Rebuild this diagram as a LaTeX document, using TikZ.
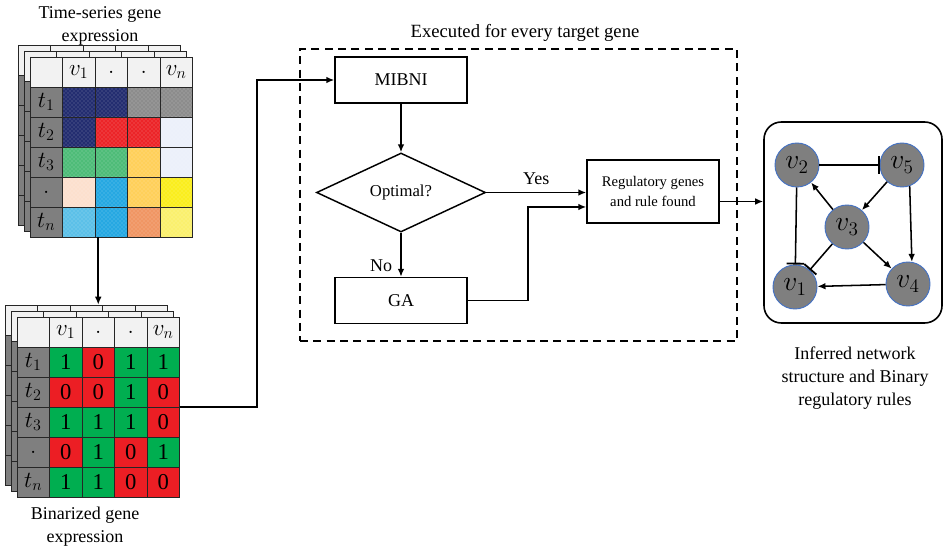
\documentclass[tikz,border=0pt]{standalone}
\usepackage{fontspec}
\setmainfont{Liberation Serif}
\usepackage{amsmath}
\usepackage{tikz}
\usetikzlibrary{shapes.geometric,arrows.meta,patterns}

\definecolor{hdrgray}{RGB}{242,242,242}
\definecolor{rowgray}{RGB}{127,127,127}
\definecolor{navy}{RGB}{35,45,112}
\definecolor{midgray}{RGB}{140,140,140}
\definecolor{hotred}{RGB}{236,36,40}
\definecolor{dotwhite}{RGB}{236,240,250}
\definecolor{mint}{RGB}{78,188,120}
\definecolor{sand}{RGB}{255,208,90}
\definecolor{peach}{RGB}{252,224,206}
\definecolor{sky}{RGB}{38,168,226}
\definecolor{lemon}{RGB}{250,238,30}
\definecolor{ice}{RGB}{92,192,232}
\definecolor{coral}{RGB}{240,150,100}
\definecolor{paleyel}{RGB}{250,240,110}
\definecolor{bit1}{RGB}{0,174,80}
\definecolor{bit0}{RGB}{236,30,36}
\definecolor{nodegray}{RGB}{127,127,127}
\definecolor{nodeblue}{RGB}{68,114,196}

\tikzset{
  cell/.style={draw=black!85, line width=0.7pt},
  box/.style={rectangle, draw=black, line width=1.1pt, minimum width=99pt,
    minimum height=34.5pt, inner sep=2pt},
  conn/.style={line width=1.15pt},
  gene/.style={circle, fill=nodegray, draw=nodeblue, line width=0.7pt,
    minimum size=33pt, inner sep=0pt, font=\fontsize{20}{20}\selectfont},
  tab/.style={font=\fontsize{17}{17}\selectfont},
}

% one sheet of the stacked table: header row, row names, white body, grid
\newcommand\matlayer[2]{%
  \fill[hdrgray] (#1,#2) rectangle ++(162.5,30);
  \fill[rowgray] (#1,#2+30) rectangle ++(32.5,150);
  \fill[white] (#1+32.5,#2+30) rectangle ++(130,150);
}
\newcommand\matgrid[2]{%
  \foreach \k in {0,...,5} \draw[cell] (#1+\k*32.5,#2) -- ++(0,180);
  \foreach \k in {0,...,6} \draw[cell] (#1,#2+\k*30) -- ++(162.5,0);
}

\begin{document}
\begin{tikzpicture}[x=0.75pt, y=-0.75pt, >={Latex[length=6pt,width=5pt]},
  font=\fontsize{13.5}{17}\selectfont]
\useasboundingbox (0,0) rectangle (950,549);

% time-series table
\foreach \d in {12,6}{
  \matlayer{30-\d}{57-\d}
  \matgrid{30-\d}{57-\d}
}
\matlayer{30}{57}
\foreach \lab/\row [count=\r] in {t_1/{navy,navy,midgray,midgray},
    t_2/{navy,hotred,hotred,dotwhite}, t_3/{mint,mint,sand,dotwhite},
    ./{peach,sky,sand,lemon}, t_n/{ice,sky,coral,paleyel}}{
  \foreach \c [count=\j] in \row{
    \fill[\c] (30+\j*32.5,57+\r*30) rectangle ++(32.5,30);
    \fill[pattern=crosshatch dots, pattern color=white, opacity=0.35]
      (30+\j*32.5,57+\r*30) rectangle ++(32.5,30);
  }
  \node[tab] at (46.25,72+\r*30) {$\lab$};
}
\foreach \lab [count=\j] in {v_1,.,.,v_n}
  \node[tab] at (46.25+\j*32.5,72) {$\lab$};
\matgrid{30}{57}
\node[inner sep=0pt, minimum width=121.875pt, minimum height=135pt] (expr) at (111.25,147) {};
\node[align=center] (exprcap) at (100,26) {Time-series gene\\expression};

% binarized table
\foreach \d in {12,6}{
  \matlayer{17-\d}{317-\d}
  \matgrid{17-\d}{317-\d}
}
\matlayer{17}{317}
\foreach \lab/\row [count=\r] in {t_1/{1,0,1,1}, t_2/{0,0,1,0},
    t_3/{1,1,1,0}, ./{0,1,0,1}, t_n/{1,1,0,0}}{
  \foreach \b [count=\j] in \row{
    \fill[bit\b] (17+\j*32.5,317+\r*30) rectangle ++(32.5,30);
    \node[tab] at (33.25+\j*32.5,332+\r*30) {\b};
  }
  \node[tab] at (33.25,332+\r*30) {$\lab$};
}
\foreach \lab [count=\j] in {v_1,.,.,v_n}
  \node[tab] at (33.25+\j*32.5,332) {$\lab$};
\matgrid{17}{317}
\node[inner sep=0pt, minimum width=121.875pt, minimum height=135pt] (bin) at (98.25,407) {};
\node[align=center] (bincap) at (85,527) {Binarized gene\\expression};

\draw[conn,->] (expr.south -| bin.north) -- ([yshift=9pt]bin.north);

% loop over target genes
\node[draw, line width=1.5pt, dash pattern=on 6pt off 4pt, minimum width=327.75pt,
  minimum height=219pt] (loop) at (518.5,195) {};
\node (looptitle) at (525,33) {\fontsize{14}{17}\selectfont Executed for every target gene};

\node[box] (mibni) at (401,80) {MIBNI};
\node[diamond, draw, line width=1.1pt, aspect=2.1, minimum width=126.75pt,
  minimum height=59.25pt, inner sep=0pt, font=\fontsize{12.5}{15}\selectfont] (dia) at (401,192.5) {Optimal?};
\node[box] (ga) at (401,300.5) {GA};
\node[box, minimum height=47.25pt, align=center, font=\fontsize{11}{15}\selectfont] (reg) at (653,191.5) {Regulatory genes\\and rule found};

\draw[conn,->] (bin.east) -- ++(77,0) |- (mibni.west);
\draw[conn,->] (mibni) -- (dia);
\draw[conn,->] (dia) -- (ga);
\node (no) at (381,266) {No};
\draw[conn,->] (dia.east) -- (dia.east -| reg.west) node[midway, above=2pt] (yes) {Yes};
\draw[conn,->] (ga.east) -- ++(60,0) |- ([yshift=-11.6pt]reg.west);

% inferred network
\node[draw, line width=1.2pt, rounded corners=13pt, minimum width=133.5pt,
  minimum height=150.75pt] (net) at (853,222.5) {};
\coordinate (regout) at ([yshift=-7.5pt]reg.east);
\draw[conn,->] (regout) -- (regout -| net.west);

\node[gene] (v2) at (797,165) {$v_2$};
\node[gene] (v5) at (902,165) {$v_5$};
\node[gene] (v3) at (847,227) {$v_3$};
\node[gene] (v1) at (795,287) {$v_1$};
\node[gene] (v4) at (908,284) {$v_4$};

\draw[conn,-{Bar[width=13pt,line width=1.4pt]}] (v2) -- (v5);
\draw[conn,-{Bar[width=13pt,line width=1.4pt]}] (v2) -- (v1);
\draw[conn,-{Bar[width=12pt,line width=1.4pt]}] (v3) -- (v1);
\draw[conn,->] (v3) -- (v2);
\draw[conn,->] (v5) -- (v3);
\draw[conn,->] (v3) -- (v4);
\draw[conn,->] (v5.-70) -- (v4.80);
\draw[conn,->] (v4) -- (v1);

\node[align=center] (netcap) at (855,378) {Inferred network\\structure and Binary\\regulatory rules};
\end{tikzpicture}
\end{document}
